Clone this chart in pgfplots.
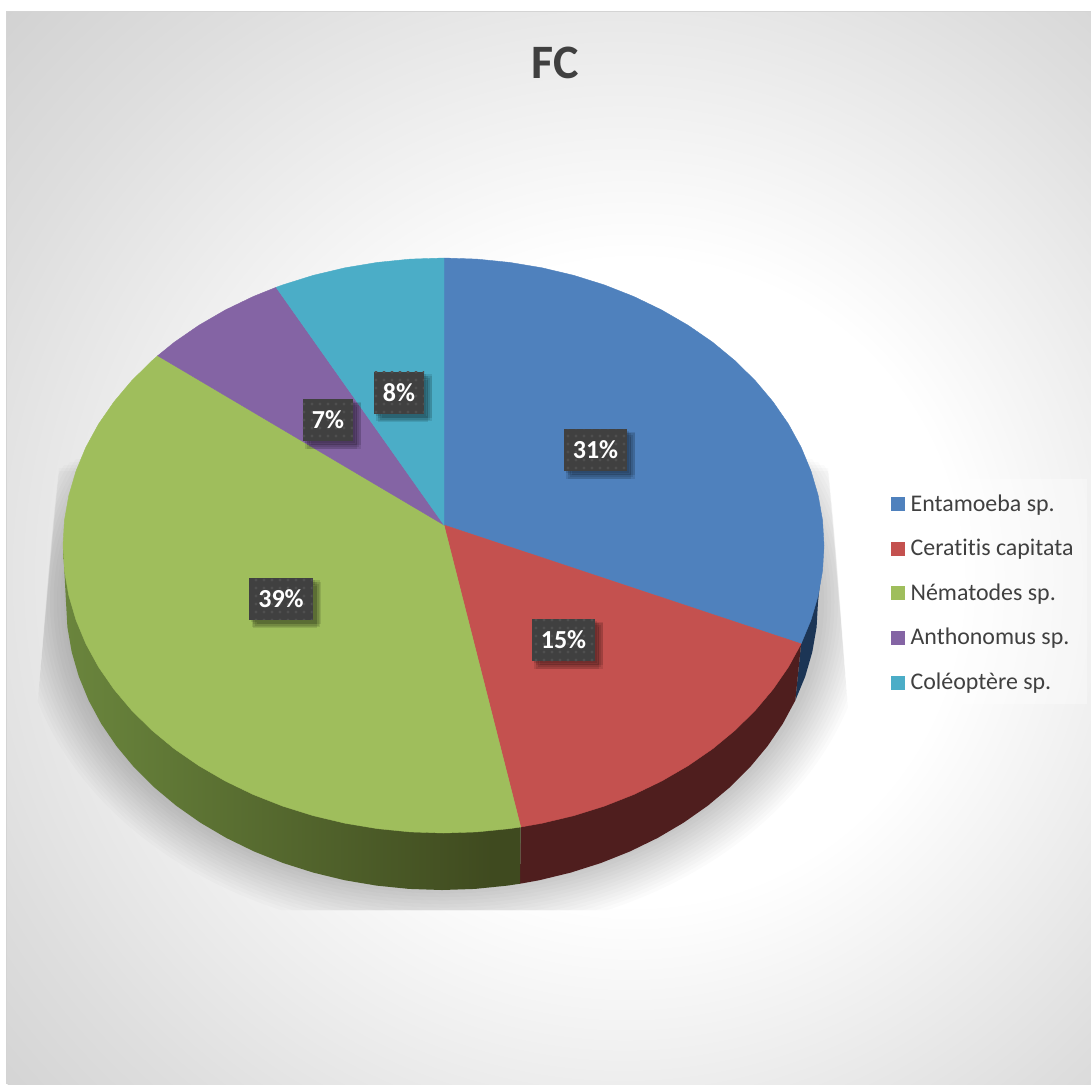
\documentclass[border=0pt]{standalone}
\usepackage{fontspec}
\setmainfont{Carlito}[Ligatures=CommonOff]
\usepackage{pgfplots}
\pgfplotsset{compat=1.18}
\usetikzlibrary{patterns}

% Office-style slice colours
\definecolor{sliceBlue}{HTML}{4F81BD}
\definecolor{sliceRed}{HTML}{C4514F}
\definecolor{sliceGreen}{HTML}{9FBE5C}
\definecolor{slicePurple}{HTML}{8464A4}
\definecolor{sliceTeal}{HTML}{4BADC7}
\definecolor{wallBlue}{HTML}{1C3555}
\definecolor{wallRed}{HTML}{4F1E1E}
\definecolor{textGrey}{HTML}{404040}
\definecolor{labelBox}{HTML}{404040}
\definecolor{labelDot}{HTML}{4F4F4F}
\definecolor{glowMid}{HTML}{DEDEDE}
\definecolor{glowOuter}{HTML}{C2C2C2}
\definecolor{rimA}{HTML}{809B4C}
\definecolor{rimB}{HTML}{66803A}
\definecolor{rimC}{HTML}{3F4A1F}

% Chart-area glow: white in the middle, grey towards the corners
\pgfdeclareradialshading{areaglow}{\pgfpoint{5bp}{-2bp}}{%
  color(0bp)=(white); color(15bp)=(white); color(31bp)=(glowMid);
  color(47bp)=(glowOuter); color(72bp)=(glowOuter)}
% Rim of the green slice: lit on the left, deep olive towards the front
\pgfdeclarehorizontalshading{greenrim}{100bp}{%
  color(0bp)=(rimA); color(30bp)=(rimB); color(72bp)=(rimC); color(100bp)=(rimC)}
% Sparse dot texture of the value labels
\pgfdeclarepatternformonly{labeldots}{\pgfqpoint{-1pt}{-1pt}}{\pgfqpoint{1pt}{1pt}}{\pgfqpoint{4pt}{4pt}}{%
  \pgfpathcircle{\pgfqpoint{0pt}{0pt}}{0.8pt}\pgfusepath{fill}}

\tikzset{
  shadowlayer/.style={fill=black,opacity=0.0175},
  labelshade/.style={draw=none,fill=black,fill opacity=0.1,transform canvas={shift={(#1)}}},
  labelblur/.style={draw=black,line width=2.5pt,fill=none,draw opacity=0.1,transform canvas={shift={(#1)}}},
}

\begin{document}
\begin{tikzpicture}
\begin{axis}[
  scale only axis, width=545.5pt, height=542pt,
  xmin=0, xmax=1091, ymin=0, ymax=1084, y dir=reverse,
  hide axis,
  legend cell align=left,
  legend style={
    at={(0.8167,0.5590)}, anchor=north west, draw=none, fill=none,
    font=\fontsize{11.95pt}{13pt}\selectfont\color{textGrey},
    row sep=8.55pt, inner xsep=0pt, inner ysep=6pt,
  },
  legend image code/.code={
    \path (7.5pt,0pt);
    \fill[#1,fill opacity=1,draw=none] (0pt,-3.5pt) rectangle (7pt,3.5pt);
  },
]
% Page margin, thin frame and chart-area background
\fill[white] (axis cs:0,0) rectangle (axis cs:1091,1084);
\fill[black!17] (axis cs:6,11) rectangle (axis cs:1091,1084);
\fill[shading=areaglow] (axis cs:7.5,12.5) rectangle (axis cs:1091,1084);

% Soft shadow cast by the pie, cut off by the reflection plane; each layer
% starts a little lower so that the shadow fades out towards its upper end
\pgfplotsinvokeforeach{0,...,13}{
  \begin{scope}
    \clip (axis cs:59,{432+3*#1}) -- (axis cs:828,{432+3*#1}) -- (axis cs:849,720)
       -- (axis cs:850,910) -- (axis cs:35,910) -- (axis cs:36,720) -- cycle;
    \fill[shadowlayer] (axis cs:444,602)
      ellipse [x radius={380+3.5*#1}, y radius={288+3.5*#1}];
  \end{scope}
}

% Backing panel of the legend
\fill[white,opacity=0.35] (axis cs:878,479) rectangle (axis cs:1087,704);

% Rim of the pie, hidden part of each polygon lies under the top face
\addplot[draw=none,fill=wallBlue,forget plot] coordinates {
  (824,545.5) (818,602) (816.6,627.1) (812.3,652) (805.2,676.5) (795.3,700.5)
  (801.1,643.8)} -- cycle;
\addplot[draw=none,fill=wallRed,forget plot] coordinates {
  (795.3,700.5) (782.8,723.7) (767.6,746) (750,767.2) (730,787.1) (707.9,805.6)
  (683.7,822.6) (657.7,837.9) (630,851.4) (600.9,863) (570.6,872.6) (539.3,880.2)
  (520,883.7) (520.7,827) (801.1,643.8)} -- cycle;
\addplot[draw=none,shading=greenrim,forget plot] coordinates {
  (520,883.7) (507.3,885.6) (474.8,888.9) (442,890) (409.2,888.9) (376.7,885.6)
  (344.7,880.2) (313.4,872.6) (283.1,863) (254,851.4) (226.3,837.9) (200.3,822.6)
  (176.1,805.6) (154,787.1) (134,767.2) (116.4,746) (101.2,723.7) (88.7,700.5)
  (78.8,676.5) (71.7,652) (67.4,627.1) (66,602) (63,545.5) (520.7,827)} -- cycle;

% Top face, one polygon per slice
\addplot[draw=sliceBlue,line width=0.2pt,fill=sliceBlue] coordinates {
  (444,525) (444,258) (476.7,259.1) (509.6,262.4) (542,267.8) (573.6,275.3)
  (604.3,284.9) (633.75,296.5) (661.7,310) (688.1,325.3) (712.6,342.2) (735,360.7)
  (755.2,380.6) (773,401.75) (788.4,424) (801.1,447.2) (811,471.1) (818.2,495.6)
  (822.55,520.4) (824,545.5) (822.55,570.6) (818.2,595.4) (811,619.9) (801.1,643.8)
  } -- cycle;
\addlegendentry{Entamoeba sp.}
\addplot[draw=sliceRed,line width=0.2pt,fill=sliceRed] coordinates {
  (444,525) (801.1,643.8) (788.4,667) (773,689.25) (755.2,710.4) (735,730.3)
  (712.6,748.8) (688.1,765.7) (661.7,781) (633.75,794.5) (604.3,806.1) (573.6,815.7)
  (542,823.2) (520.7,827)} -- cycle;
\addlegendentry{Ceratitis capitata}
\addplot[draw=sliceGreen,line width=0.2pt,fill=sliceGreen] coordinates {
  (444,525) (520.7,827) (509.6,828.6) (476.7,831.9) (443.5,833) (410.3,831.9)
  (377.4,828.6) (345,823.2) (313.4,815.7) (282.7,806.1) (253.25,794.5) (225.3,781)
  (198.9,765.7) (174.4,748.8) (152,730.3) (131.8,710.4) (114,689.25) (98.6,667)
  (85.9,643.8) (76,619.9) (68.8,595.4) (64.45,570.6) (63,545.5) (64.45,520.4)
  (68.8,495.6) (76,471.1) (85.9,447.2) (98.6,424) (114,401.75) (131.8,380.6)
  (152,360.7) (157.7,355.7)} -- cycle;
\addlegendentry{Nématodes sp.}
\addplot[draw=slicePurple,line width=0.2pt,fill=slicePurple] coordinates {
  (444,525) (157.7,355.7) (174.4,342.2) (198.9,325.3) (225.3,310) (253.25,296.5)
  (276.1,287.3)} -- cycle;
\addlegendentry{Anthonomus sp.}
\addplot[draw=sliceTeal,line width=0.2pt,fill=sliceTeal] coordinates {
  (444,525) (276.1,287.3) (282.7,284.9) (313.4,275.3) (345,267.8) (377.4,262.4)
  (410.3,259.1) (444,258)} -- cycle;
\addlegendentry{Coléoptère sp.}

% Percentage labels, the value of each slice is the point's meta value
\addplot[
  forget plot, only marks, mark=none,
  point meta=explicit,
  nodes near coords={\pgfmathprintnumber[assume math mode=true]{\pgfplotspointmeta}\%},
  every node near coord/.style={
    anchor=center, text=white, draw=none,
    font=\fontsize{13pt}{15pt}\bfseries\selectfont,
    minimum height=21pt, inner xsep=4.5pt, inner ysep=0pt,
    preaction={labelblur={2.5pt,-2.5pt}},
    preaction={labelshade={1pt,-1pt}},
    preaction={labelshade={2pt,-2pt}},
    preaction={labelshade={3pt,-3pt}},
    preaction={labelshade={4pt,-2pt}},
    preaction={labelshade={2pt,-4pt}},
    preaction={draw=none,fill=labelBox},
    pattern=labeldots, pattern color=labelDot,
  },
] coordinates {
  (595.5,450) [31]
  (563.5,640) [15]
  (281,598.5) [39]
  (328,420) [7]
  (399,392.5) [8]
};

% Chart title
\node[font=\fontsize{24pt}{28pt}\bfseries\selectfont,text=textGrey] at (axis cs:555,63) {FC};
\end{axis}
\end{tikzpicture}
\end{document}
